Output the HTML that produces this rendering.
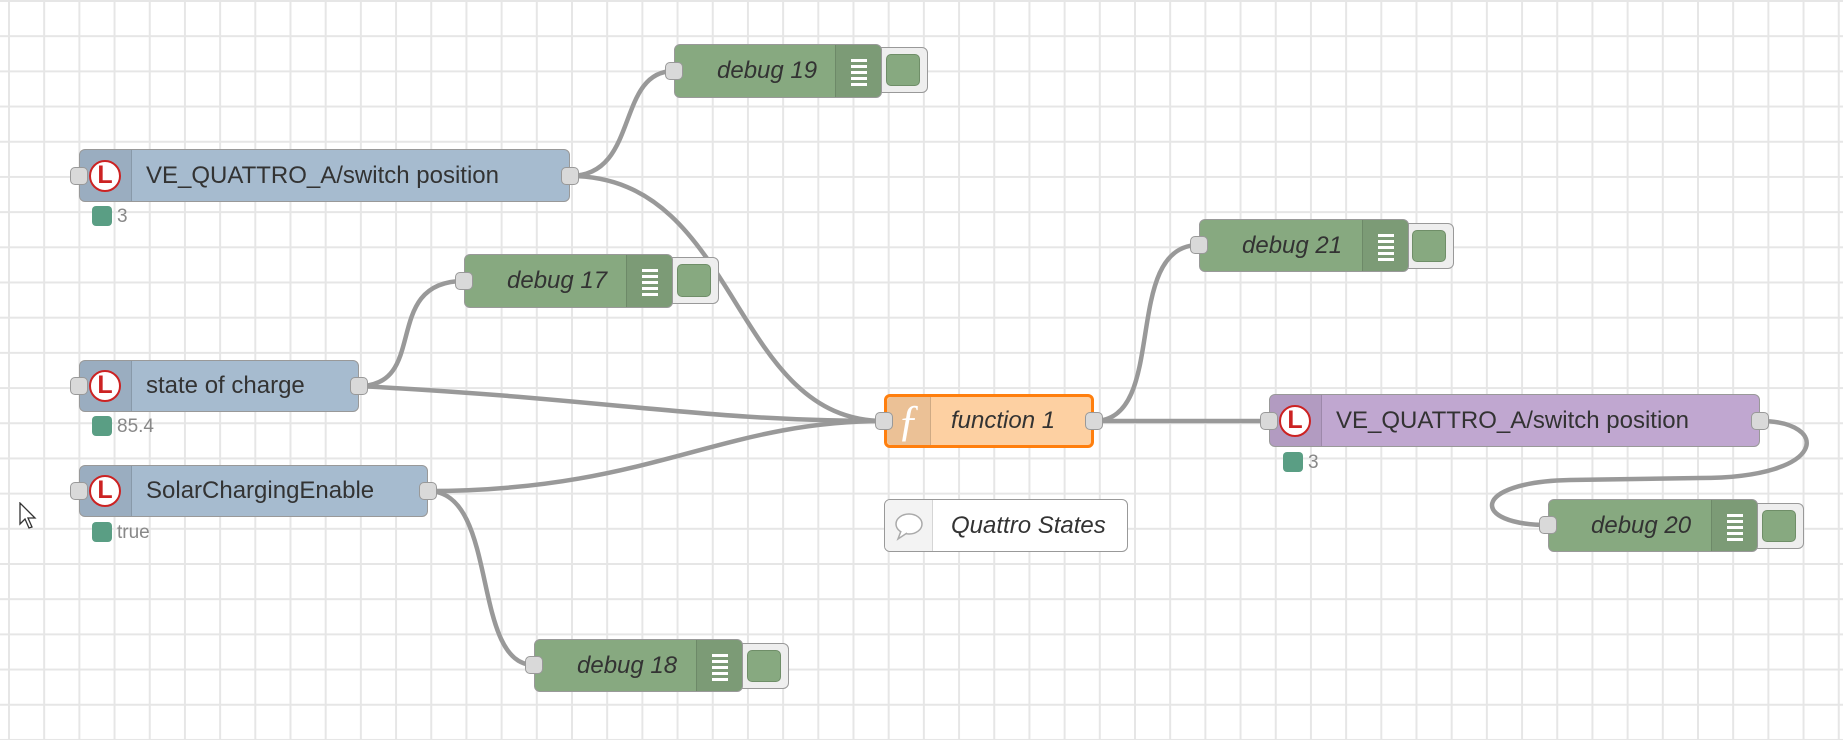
<!DOCTYPE html>
<html><head><style>
*{box-sizing:border-box;margin:0;padding:0}
body{width:1843px;height:740px;overflow:hidden;position:relative;font-family:"Liberation Sans",sans-serif;
background-color:#fff;
background-image:linear-gradient(#e6e6e6 2px,transparent 2px),linear-gradient(90deg,#e6e6e6 2px,transparent 2px);
background-size:35.2px 35.2px;background-position:8px 0}
.n{position:absolute;border:1.5px solid #999;border-radius:6px;color:#333;font-size:24px;display:flex;align-items:center;white-space:nowrap}
.ic{position:absolute;left:0;top:0;bottom:0;width:52px;background:rgba(0,0,0,0.07);border-right:1px solid rgba(0,0,0,0.12);border-radius:5px 0 0 5px}
.lg{position:absolute;left:9px;top:50%;margin-top:-16px;width:32px;height:32px;border-radius:50%;background:#fff;border:2.5px solid #cc2222;color:#cc2222;font-weight:bold;font-size:25px;line-height:27px;text-align:center}
.p{position:absolute;width:18px;height:18px;background:#d9d9d9;border:1.5px solid #999;border-radius:5px}
.dbg{background:#87a980}
.dbg i{font-style:italic}
.bars{position:absolute;right:0;top:0;bottom:0;width:46px;background:rgba(0,0,0,0.08);border-left:1px solid rgba(0,0,0,0.12);border-radius:0 5px 5px 0}
.bars b{position:absolute;left:15px;width:16px;height:2.5px;background:#fff}
.btn{position:absolute;border:1.5px solid #999;border-radius:6px;background:#eee}
.btn span{position:absolute;left:9px;right:7px;top:6px;bottom:6px;background:#87a980;border-radius:5px;border:1px solid #6f8e68}
.st{position:absolute;font-size:19px;color:#888}
.st b{display:inline-block;width:20px;height:20px;background:#5a9e84;border-radius:4px;vertical-align:-4px;margin-right:5px}
</style></head><body>
<svg width="1843" height="740" style="position:absolute;left:0;top:0" fill="none" stroke="#999" stroke-width="4.5">
<path d="M570,176 C640,176 615,71 674,71"/>
<path d="M570,176 C740,176 730,421 884,421"/>
<path d="M359,386 C430,386 380,281 464,281"/>
<path d="M359,386 C620,400 700,421 884,421"/>
<path d="M428,491 C650,491 720,421 884,421"/>
<path d="M428,491 C500,491 470,665 534,665"/>
<path d="M1094,421 C1170,421 1120,245 1199,245"/>
<path d="M1094,421 L1269,421"/>
<path d="M1760,421 C1830,421 1830,478 1700,478 L1570,480 C1470,482 1470,525 1548,525"/>
</svg>

<div class="n" style="left:79px;top:149px;width:491px;height:53px;background:#a6bbcf"><div class="ic"><div class="lg">L</div></div><span style="margin-left:66px">VE_QUATTRO_A/switch position</span></div>
<div class="p" style="left:70px;top:167px"></div><div class="p" style="left:561px;top:167px"></div>
<div class="st" style="left:92px;top:206px"><b></b>3</div>

<div class="n" style="left:79px;top:360px;width:280px;height:52px;background:#a6bbcf"><div class="ic"><div class="lg">L</div></div><span style="margin-left:66px">state of charge</span></div>
<div class="p" style="left:70px;top:377px"></div><div class="p" style="left:350px;top:377px"></div>
<div class="st" style="left:92px;top:416px"><b></b>85.4</div>

<div class="n" style="left:79px;top:465px;width:349px;height:52px;background:#a6bbcf"><div class="ic"><div class="lg">L</div></div><span style="margin-left:66px">SolarChargingEnable</span></div>
<div class="p" style="left:70px;top:482px"></div><div class="p" style="left:419px;top:482px"></div>
<div class="st" style="left:92px;top:522px"><b></b>true</div>

<div class="btn" style="left:876px;top:47px;width:52px;height:46px"><span></span></div>
<div class="n dbg" style="left:674px;top:44px;width:208px;height:54px"><i style="margin-left:42px">debug 19</i><div class="bars"><b style="top:14px"></b><b style="top:20px"></b><b style="top:26px"></b><b style="top:32px"></b><b style="top:38px"></b></div></div>
<div class="p" style="left:665px;top:62px"></div>

<div class="btn" style="left:667px;top:257px;width:52px;height:47px"><span></span></div>
<div class="n dbg" style="left:464px;top:254px;width:209px;height:54px"><i style="margin-left:42px">debug 17</i><div class="bars"><b style="top:14px"></b><b style="top:20px"></b><b style="top:26px"></b><b style="top:32px"></b><b style="top:38px"></b></div></div>
<div class="p" style="left:455px;top:272px"></div>

<div class="btn" style="left:737px;top:643px;width:52px;height:46px"><span></span></div>
<div class="n dbg" style="left:534px;top:639px;width:209px;height:53px"><i style="margin-left:42px">debug 18</i><div class="bars"><b style="top:14px"></b><b style="top:20px"></b><b style="top:26px"></b><b style="top:32px"></b><b style="top:38px"></b></div></div>
<div class="p" style="left:525px;top:656px"></div>

<div class="btn" style="left:1402px;top:223px;width:52px;height:46px"><span></span></div>
<div class="n dbg" style="left:1199px;top:219px;width:210px;height:53px"><i style="margin-left:42px">debug 21</i><div class="bars"><b style="top:14px"></b><b style="top:20px"></b><b style="top:26px"></b><b style="top:32px"></b><b style="top:38px"></b></div></div>
<div class="p" style="left:1190px;top:236px"></div>

<div class="btn" style="left:1752px;top:503px;width:52px;height:46px"><span></span></div>
<div class="n dbg" style="left:1548px;top:499px;width:210px;height:53px"><i style="margin-left:42px">debug 20</i><div class="bars"><b style="top:14px"></b><b style="top:20px"></b><b style="top:26px"></b><b style="top:32px"></b><b style="top:38px"></b></div></div>
<div class="p" style="left:1539px;top:516px"></div>

<div class="n" style="left:884px;top:394px;width:210px;height:54px;background:#fdd0a2;border:3px solid #ff7f0e"><div class="ic" style="width:44px;color:#fff;font-size:44px;font-style:italic;font-family:'Liberation Serif',serif;text-align:center;line-height:48px">&#402;</div><i style="margin-left:64px">function 1</i></div>
<div class="p" style="left:875px;top:412px"></div><div class="p" style="left:1085px;top:412px"></div>

<div class="n" style="left:884px;top:499px;width:244px;height:53px;background:#fff"><div class="ic" style="width:48px;background:#f3f3f3"><svg width="48" height="50" viewBox="0 0 48 50"><ellipse cx="24" cy="24" rx="13" ry="10" fill="#fff" stroke="#aaa" stroke-width="1.5"/><path d="M16,31 L13,39 L22,33" fill="#fff" stroke="#aaa" stroke-width="1.5"/></svg></div><i style="margin-left:66px">Quattro States</i></div>

<div class="n" style="left:1269px;top:394px;width:491px;height:53px;background:#c0a7d0"><div class="ic"><div class="lg">L</div></div><span style="margin-left:66px">VE_QUATTRO_A/switch position</span></div>
<div class="p" style="left:1260px;top:412px"></div><div class="p" style="left:1751px;top:412px"></div>
<div class="st" style="left:1283px;top:452px"><b></b>3</div>

<svg style="position:absolute;left:19px;top:502px" width="18" height="28"><path d="M1,1 L1,22 L6,17 L10,26 L13,25 L9,16 L16,16 Z" fill="#fff" stroke="#333" stroke-width="1.3"/></svg>
</body></html>
